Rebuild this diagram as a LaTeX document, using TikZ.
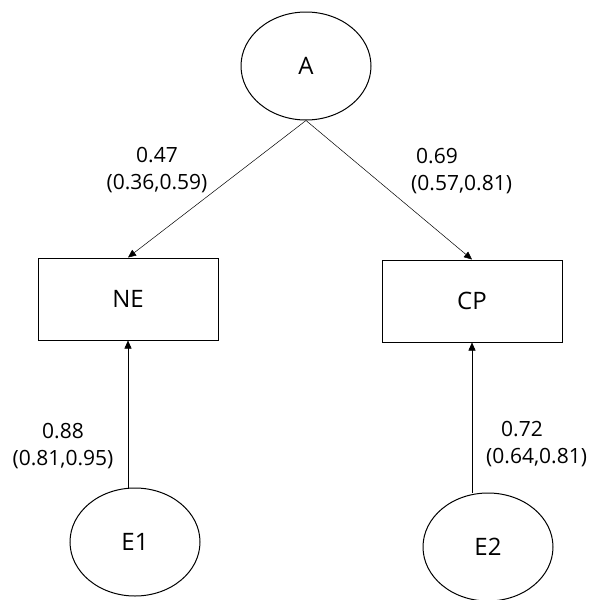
\documentclass[tikz,border=0pt]{standalone}
\usepackage{fontspec}
\setmainfont{Open Sans}
\usepackage{tikz}
\usetikzlibrary{shapes.geometric,arrows.meta}
\tikzstyle{latente}=[draw,ellipse,line width=1pt,inner sep=0pt,minimum width=130pt,minimum height=108pt,font=\fontsize{24}{28}\selectfont]
\tikzstyle{obs}=[draw,rectangle,line width=1pt,inner sep=0pt,minimum width=180pt,minimum height=82pt,font=\fontsize{24}{28}\selectfont]
\tikzstyle{carga}=[inner sep=0pt,font=\fontsize{21}{27}\selectfont]
\tikzstyle{flecha}=[line width=0.5pt,-{Triangle[length=8pt,width=7pt]}]

\begin{document}
\begin{tikzpicture}[x=1pt,y=-1pt]
    \useasboundingbox (0,0) rectangle (598,600);
    \node [latente] (A) at (306,66) {A};
    \node [obs] (NE) at (128,299) {NE};
    \node [obs] (CP) at (472,301) {CP};
    \node [latente] (E1) at (135,542) {E1};
    \node [latente] (E2) at (488,547) {E2};
    \draw [flecha] (A.south) -- (NE.north);
    \draw [flecha] (A.south) -- (CP.north);
    \draw [flecha] (E1.north -| NE.south) -- (NE.south);
    \draw [flecha] (E2.north -| CP.south) -- (CP.south);
    \node [carga,align=center] (l1) at (157,170) {0.47\\(0.36,0.59)};
    \node [carga,align=left,anchor=west] (l2) at (411,171) {\hspace*{5pt}0.69\\(0.57,0.81)};
    \node [carga,align=center] (l3) at (63,446) {0.88\\(0.81,0.95)};
    \node [carga,align=left,anchor=west] (l4) at (486,444) {\hspace*{15pt}0.72\\(0.64,0.81)};
\end{tikzpicture}
\end{document}
